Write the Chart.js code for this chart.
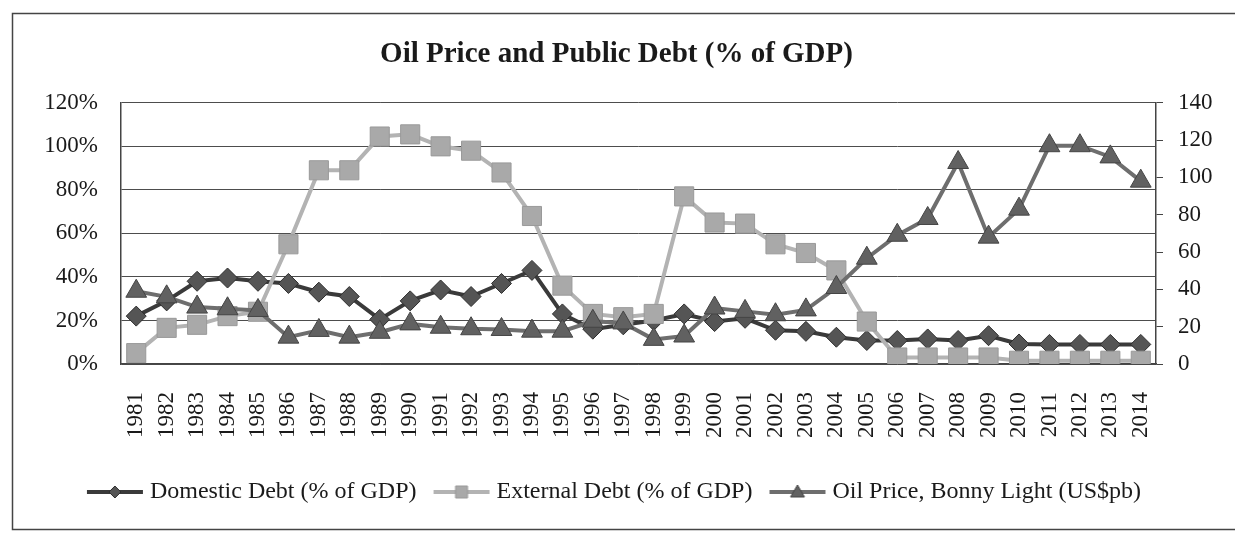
<!DOCTYPE html>
<html>
<head>
<meta charset="utf-8">
<title>Oil Price and Public Debt</title>
<script src="https://cdn.jsdelivr.net/npm/chart.js@4.4.0/dist/chart.umd.min.js"></script>
<style>
  html, body { margin: 0; padding: 0; background: #fff; }
  #wrap { width: 1235px; height: 535px; }
</style>
</head>
<body>
<div id="wrap"><canvas id="debtChart" width="1235" height="535"></canvas></div>
<script>
// values
const years = ["1981","1982","1983","1984","1985","1986","1987","1988","1989","1990",
  "1991","1992","1993","1994","1995","1996","1997","1998","1999","2000",
  "2001","2002","2003","2004","2005","2006","2007","2008","2009","2010",
  "2011","2012","2013","2014"];
const domesticDebt = [22, 29, 38, 39.5, 38, 37, 33, 31, 20.5, 29,
  34, 31, 37, 43, 23, 16, 18, 20, 23, 19.5,
  21, 15.5, 15, 12.3, 10.8, 10.8, 11.5, 10.8, 13, 9.2,
  9, 9, 9, 9];
const externalDebt = [5, 16.6, 18, 22, 24, 55, 89, 89, 104.5, 105.5,
  100, 98, 88, 68, 36, 23, 21.5, 23, 77, 65,
  64.5, 55, 51, 43, 19.5, 3, 3, 3, 3, 1.5,
  1.5, 1.5, 1.5, 1.5];
const oilPrice = [39, 36, 30.5, 29.6, 28.7, 14.4, 18, 14.4, 17, 21.5,
  19.7, 18.9, 18.5, 17.6, 17.6, 22.9, 22, 13.2, 15, 30,
  28.2, 26.4, 29, 41, 56.7, 69, 78, 108, 68, 83,
  117, 117, 111, 98];
const seriesNames = ["Domestic Debt (% of GDP)", "External Debt (% of GDP)", "Oil Price, Bonny Light (US$pb)"];
const pctMax = 120, oilMax = 140, tickStep = 20;

const serif = "'Liberation Serif', 'Times New Roman', serif";

// legend swatch: line with the marker in the middle, like the Excel legend
function makeIcon(lineColor, fill, edge, shape) {
    const c = document.createElement("canvas");
    c.width = 58; c.height = 20;
    const g = c.getContext("2d");
    g.strokeStyle = lineColor; g.lineWidth = 4;
    g.beginPath(); g.moveTo(1, 10); g.lineTo(57, 10); g.stroke();
    g.fillStyle = fill; g.strokeStyle = edge; g.lineWidth = 1;
    g.beginPath();
    if (shape === "diamond") {
        g.moveTo(29, 4); g.lineTo(35, 10); g.lineTo(29, 16); g.lineTo(23, 10);
    } else if (shape === "square") {
        g.rect(23, 4, 12, 12);
    } else {
        g.moveTo(29, 3); g.lineTo(36, 15); g.lineTo(22, 15);
    }
    g.closePath(); g.fill(); g.stroke();
    return c;
}
const legendIcons = [
    makeIcon("#3a3a3a", "#555", "#2e2e2e", "diamond"),
    makeIcon("#b3b3b3", "#a9a9a9", "#999", "square"),
    makeIcon("#6e6e6e", "#616161", "#444", "triangle")
];

const framePlugin = {
    id: "frame",
    beforeDraw(chart) {
        const ctx = chart.ctx;
        ctx.save();
        ctx.fillStyle = "#fff";
        ctx.fillRect(0, 0, chart.width, chart.height);
        ctx.restore();
    },
    afterDraw(chart) {
        const ctx = chart.ctx;
        ctx.save();
        ctx.strokeStyle = "#444";
        ctx.lineWidth = 1.5;
        ctx.strokeRect(12.5, 13.5, 1240, 516);
        ctx.restore();
    }
};

new Chart(document.getElementById("debtChart"), {
    type: "line",
    data: {
        labels: years,
        datasets: [
            {label: seriesNames[0], data: domesticDebt, yAxisID: "y", order: 3,
             borderColor: "#3a3a3a", borderWidth: 4, pointStyle: "rectRot", pointRadius: 10,
             pointBackgroundColor: "#555", pointBorderColor: "#2e2e2e", pointBorderWidth: 1},
            {label: seriesNames[1], data: externalDebt, yAxisID: "y", order: 2,
             borderColor: "#b3b3b3", borderWidth: 4, pointStyle: "rect", pointRadius: 13.5,
             pointBackgroundColor: "#a9a9a9", pointBorderColor: "#999", pointBorderWidth: 1},
            {label: seriesNames[2], data: oilPrice, yAxisID: "y2", order: 1,
             borderColor: "#6e6e6e", borderWidth: 4, pointStyle: "triangle", pointRadius: 12,
             pointBackgroundColor: "#616161", pointBorderColor: "#444", pointBorderWidth: 1}
        ]
    },
    options: {
        responsive: false,
        animation: false,
        devicePixelRatio: 1,
        events: [],
        layout: {padding: {left: 12, right: 14, top: 14, bottom: 21}},
        elements: {line: {tension: 0}},
        plugins: {
            title: {
                display: true,
                text: "Oil Price and Public Debt (% of GDP)",
                color: "#1a1a1a",
                font: {family: serif, size: 29, weight: "bold"},
                padding: {top: 23, bottom: 31}
            },
            legend: {
                position: "bottom",
                labels: {
                    color: "#1a1a1a",
                    font: {family: serif, size: 24},
                    usePointStyle: true,
                    pointStyleWidth: 46,
                    padding: 22,
                    sort: (a, b) => a.datasetIndex - b.datasetIndex,
                    generateLabels(chart) {
                        const items = Chart.defaults.plugins.legend.labels.generateLabels(chart);
                        items.forEach(it => { it.pointStyle = legendIcons[it.datasetIndex]; });
                        return items;
                    }
                }
            },
            tooltip: {enabled: false}
        },
        scales: {
            x: {
                offset: true,
                grid: {display: false},
                border: {display: true, color: "#444", width: 1.5},
                ticks: {color: "#1a1a1a", font: {family: serif, size: 23}, autoSkip: false,
                        minRotation: 90, maxRotation: 90, padding: 20},
                afterFit: s => { s.height = 94; }
            },
            y: {
                position: "left",
                min: 0, max: pctMax,
                grid: {color: "#4d4d4d", lineWidth: 1, drawTicks: false},
                border: {display: true, color: "#444", width: 1.5},
                ticks: {stepSize: tickStep, color: "#1a1a1a", font: {family: serif, size: 23},
                        padding: 23, callback: v => v + "%"},
                afterFit: s => { s.width = 109; }
            },
            y2: {
                position: "right",
                min: 0, max: oilMax,
                grid: {drawOnChartArea: false, drawTicks: true, tickLength: 7, color: "#444"},
                border: {display: true, color: "#444", width: 1.5},
                ticks: {stepSize: tickStep, color: "#1a1a1a", font: {family: serif, size: 23}, padding: 15},
                afterFit: s => { s.width = 65; }
            }
        }
    },
    plugins: [framePlugin]
});
</script>
</body>
</html>
